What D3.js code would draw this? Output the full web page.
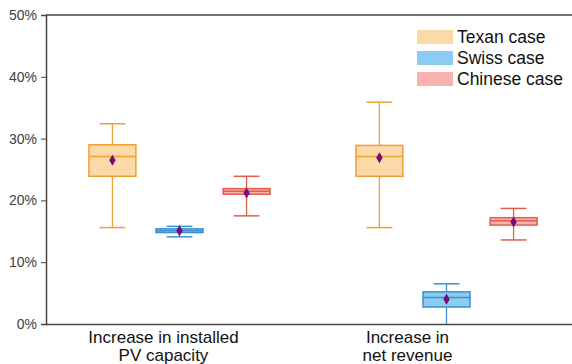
<!DOCTYPE html>
<html>
<head>
<meta charset="utf-8">
<script src="https://cdn.jsdelivr.net/npm/d3@7"></script>
<style>
  body { margin: 0; background: #fff; }
  text { font-family: Arial, "Liberation Sans", sans-serif; }
</style>
</head>
<body>
<svg id="chart" width="572" height="364"></svg>
<script>
// groups and cases
var groups = ["Increase in installed PV capacity", "Increase in net revenue"];
var groupLines = [["Increase in installed", "PV capacity"], ["Increase in", "net revenue"]];
var cases = ["Texan case", "Swiss case", "Chinese case"];

// box stats per group, in case order (percent)
var mins    = [[15.6, 14.1, 17.5], [15.6, 0.0, 13.6]];
var q1s     = [[23.9, 14.8, 21.0], [23.9, 2.75, 16.0]];
var medians = [[27.1, 15.1, 21.5], [27.1, 4.3, 16.7]];
var q3s     = [[29.0, 15.4, 21.9], [28.9, 5.2, 17.2]];
var maxs    = [[32.4, 15.8, 23.9], [35.9, 6.5, 18.7]];
var means   = [[26.5, 15.1, 21.2], [26.9, 4.0, 16.5]];

var yTicks = [0, 10, 20, 30, 40, 50];

var fills   = ["#fcd9a8", "#8ccbf2", "#f9b0b0"];
var strokes = ["#f0a030", "#3d8fd0", "#e0604a"];

var margin = {top: 15, right: -8, bottom: 40, left: 46},
    width = 572 - margin.left - margin.right,
    height = 364 - margin.top - margin.bottom;

var svg = d3.select("#chart")
  .append("g")
    .attr("transform", "translate(" + margin.left + "," + margin.top + ")");

var x0 = d3.scaleBand().domain(groups).range([0, width]);
var x1 = d3.scaleBand().domain(cases).range([0, x0.bandwidth()]).paddingInner(0.3).paddingOuter(0.64);
var y = d3.scaleLinear().domain([0, 50]).range([height, 0]);

// frame
svg.append("line").attr("x1", 0).attr("x2", width).attr("y1", 0).attr("y2", 0)
  .attr("stroke", "#444").attr("stroke-width", 1.5);

var yAxis = svg.append("g")
  .call(d3.axisLeft(y).tickValues(yTicks).tickSize(5).tickFormat(function(d) { return d + "%"; }));
yAxis.select(".domain").attr("stroke", "#444").attr("stroke-width", 1.5);
yAxis.selectAll(".tick line").attr("stroke", "#444");
yAxis.selectAll("text").attr("font-size", "14px").attr("fill", "#404040")
  .attr("font-family", "Arial, 'Liberation Sans', sans-serif").attr("dx", "-1");

var xAxis = svg.append("g").attr("transform", "translate(0," + height + ")")
  .call(d3.axisBottom(x0).tickSize(0).tickFormat(""));
xAxis.select(".domain").attr("stroke", "#444").attr("stroke-width", 1.5);

// category labels (shifted left a bit as in the original)
var labelShift = [-16, -39];
groups.forEach(function(g, gi) {
  var t = svg.append("text")
    .attr("x", x0(g) + x0.bandwidth() / 2 + labelShift[gi])
    .attr("y", height + 19)
    .attr("text-anchor", "middle")
    .attr("font-size", "17px")
    .attr("fill", "#111");
  groupLines[gi].forEach(function(line, li) {
    t.append("tspan").attr("x", x0(g) + x0.bandwidth() / 2 + labelShift[gi])
      .attr("dy", li === 0 ? 0 : 18).text(line);
  });
});

// boxes
groups.forEach(function(g, gi) {
  cases.forEach(function(c, ci) {
    var bw = x1.bandwidth();
    var cx = x0(g) + x1(c) + bw / 2;
    var cap = bw * 0.55;
    var grp = svg.append("g");
    grp.append("line").attr("x1", cx).attr("x2", cx)
      .attr("y1", y(maxs[gi][ci])).attr("y2", y(q3s[gi][ci]))
      .attr("stroke", strokes[ci]).attr("stroke-width", 1.3);
    grp.append("line").attr("x1", cx).attr("x2", cx)
      .attr("y1", y(q1s[gi][ci])).attr("y2", y(mins[gi][ci]))
      .attr("stroke", strokes[ci]).attr("stroke-width", 1.3);
    if (mins[gi][ci] > 0) {
      grp.append("line").attr("x1", cx - cap / 2).attr("x2", cx + cap / 2)
        .attr("y1", y(mins[gi][ci])).attr("y2", y(mins[gi][ci]))
        .attr("stroke", strokes[ci]).attr("stroke-width", 1.5);
    }
    grp.append("line").attr("x1", cx - cap / 2).attr("x2", cx + cap / 2)
      .attr("y1", y(maxs[gi][ci])).attr("y2", y(maxs[gi][ci]))
      .attr("stroke", strokes[ci]).attr("stroke-width", 1.5);
    grp.append("rect")
      .attr("x", cx - bw / 2).attr("width", bw)
      .attr("y", y(q3s[gi][ci])).attr("height", y(q1s[gi][ci]) - y(q3s[gi][ci]))
      .attr("fill", fills[ci]).attr("stroke", strokes[ci]).attr("stroke-width", 1.5);
    grp.append("line").attr("x1", cx - bw / 2).attr("x2", cx + bw / 2)
      .attr("y1", y(medians[gi][ci])).attr("y2", y(medians[gi][ci]))
      .attr("stroke", strokes[ci]).attr("stroke-width", 1.5);
    grp.append("path")
      .attr("d", d3.symbol().type(d3.symbolDiamond).size(36))
      .attr("transform", "translate(" + cx + "," + y(means[gi][ci]) + ")")
      .attr("fill", "#7a0a7a");
  });
});

// legend
var legendRectSize = 14, legendSpacing = 21;
var legend = svg.selectAll(".legend")
    .data(cases)
  .enter().append("g")
    .attr("class", "legend")
    .attr("transform", function(d, i) { return "translate(371," + (15 + i * legendSpacing) + ")"; });
legend.append("rect")
  .attr("width", 36).attr("height", legendRectSize)
  .attr("fill", function(d, i) { return fills[i]; });
legend.append("text")
  .attr("x", 40).attr("y", 13)
  .attr("font-size", "17.5px").attr("fill", "#111")
  .text(function(d) { return d; });
</script>
</body>
</html>
